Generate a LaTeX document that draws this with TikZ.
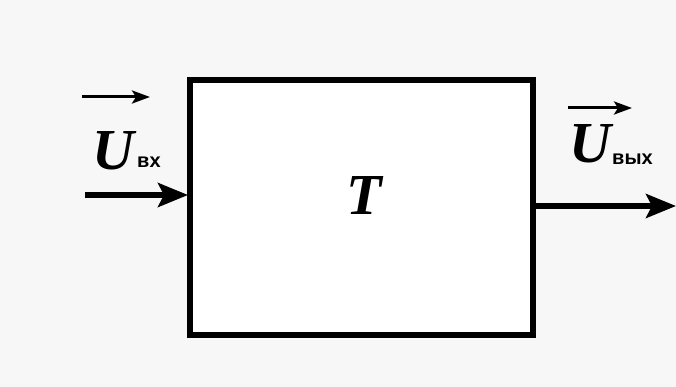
\documentclass[tikz,border=0pt]{standalone}
\usepackage{fontspec}
\setmainfont{Liberation Serif}
\newfontfamily\subfont{Liberation Sans}
\usetikzlibrary{arrows.meta}
\begin{document}
\begin{tikzpicture}[x=1pt,y=-1pt,
  sig/.style={line width=5.5pt,-{Stealth[length=30pt,width=24pt,inset=6pt]}},
  vecarr/.style={line width=3pt,-{Stealth[length=18pt,width=13pt,inset=4pt]}},
  lbl/.style={inner sep=0pt,font=\fontsize{58}{60}\selectfont\bfseries\itshape},
  sublbl/.style={inner sep=0pt,font=\fontsize{20}{22}\selectfont\subfont\bfseries}]
\useasboundingbox[fill=black!3] (0,0) rectangle (676,387);
\node[draw,line width=6pt,fill=white,minimum width=343pt,minimum height=255pt,inner sep=0pt] (box) at (361.5,207.5) {};
\node[lbl] (T) at (364,196) {T};
\coordinate (inL) at (85,195);
\coordinate (inR) at (188,195);
\draw[sig] (inL) -- (inR);
\coordinate (outL) at (535,206);
\coordinate (outR) at (676,206);
\draw[sig] (outL) -- (outR);
\node[lbl,anchor=base west] (U1) at (92,170) {U};
\node[sublbl,anchor=base west] (s1) at (137,168) {вх};
\coordinate (a1L) at (82,97);
\coordinate (a1R) at (150,97);
\draw[vecarr] (a1L) -- (a1R);
\node[lbl,anchor=base west] (U2) at (569,163) {U};
\node[sublbl,anchor=base west] (s2) at (612,165) {вых};
\coordinate (a2L) at (568,108);
\coordinate (a2R) at (632,108);
\draw[vecarr] (a2L) -- (a2R);
\end{tikzpicture}
\end{document}
